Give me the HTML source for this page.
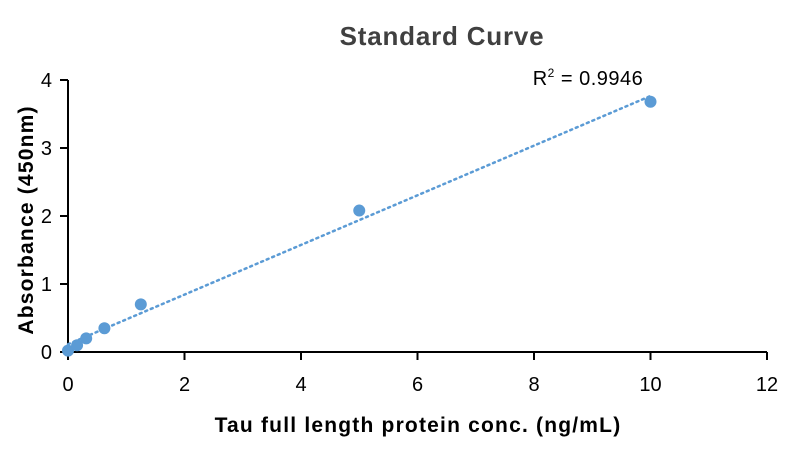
<!DOCTYPE html>
<html><head><meta charset="utf-8"><style>
body{margin:0;background:#fff;}
svg{display:block;font-family:"Liberation Sans",sans-serif;}
</style></head><body>
<svg id="c" width="792" height="451">
<text x="442" y="45" text-anchor="middle" font-size="26" font-weight="bold" letter-spacing="0.8" fill="#404040">Standard Curve</text>
<text x="418" y="432" text-anchor="middle" font-size="21" font-weight="bold" letter-spacing="1.2" fill="#000">Tau full length protein conc. (ng/mL)</text>
<text transform="translate(33,220) rotate(-90)" text-anchor="middle" font-size="21" font-weight="bold" letter-spacing="1.2" fill="#000">Absorbance (450nm)</text>
<text x="588" y="85" text-anchor="middle" font-size="20" letter-spacing="0.5" fill="#000">R<tspan font-size="12" dy="-8">2</tspan><tspan dy="8"> = 0.9946</tspan></text>
<g id="g"></g>
</svg>
<script>
const xTicks=[0,2,4,6,8,10,12];
const yTicks=[0,1,2,3,4];
const concs=[0,0.156,0.3125,0.625,1.25,5,10];
const absorb=[0.02,0.1,0.2,0.35,0.7,2.08,3.68];
const X=v=>68+v*(767-68)/12, Y=v=>352-v*68;
const g=document.getElementById('g'),NS='http://www.w3.org/2000/svg';
function el(t,a,txt){const e=document.createElementNS(NS,t);for(const k in a)e.setAttribute(k,a[k]);if(txt!=null)e.textContent=txt;g.appendChild(e);return e;}
let e=el('line',{x1:68,y1:Y(4),x2:68,y2:Y(0),stroke:'#000','stroke-width':2});

e=el('line',{x1:67,y1:Y(0),x2:X(12),y2:Y(0),stroke:'#000','stroke-width':2});

xTicks.forEach(v=>{
 e=el('line',{x1:X(v),y1:352,x2:X(v),y2:360,stroke:'#000','stroke-width':2});
 
 e=el('text',{x:X(v),y:391,'text-anchor':'middle','font-size':20},v);
 
});
yTicks.forEach(v=>{
 e=el('line',{x1:60,y1:Y(v),x2:68,y2:Y(v),stroke:'#000','stroke-width':2});
 
 e=el('text',{x:52,y:Y(v)+7,'text-anchor':'end','font-size':20},v);
 
});
const n=concs.length,mx=concs.reduce((a,b)=>a+b)/n,my=absorb.reduce((a,b)=>a+b)/n;
let sxy=0,sxx=0;for(let i=0;i<n;i++){sxy+=(concs[i]-mx)*(absorb[i]-my);sxx+=(concs[i]-mx)**2;}
const m=sxy/sxx,b=my-m*mx;
e=el('line',{x1:X(0),y1:Y(b),x2:X(10),y2:Y(b+m*10),stroke:'#5b9bd5','stroke-width':2.5,'stroke-dasharray':'2 4','stroke-linecap':'round'});

concs.forEach((c,i)=>{
 e=el('circle',{cx:X(c),cy:Y(absorb[i]),r:6,fill:'#5b9bd5'});
 
});
</script>
</body></html>
